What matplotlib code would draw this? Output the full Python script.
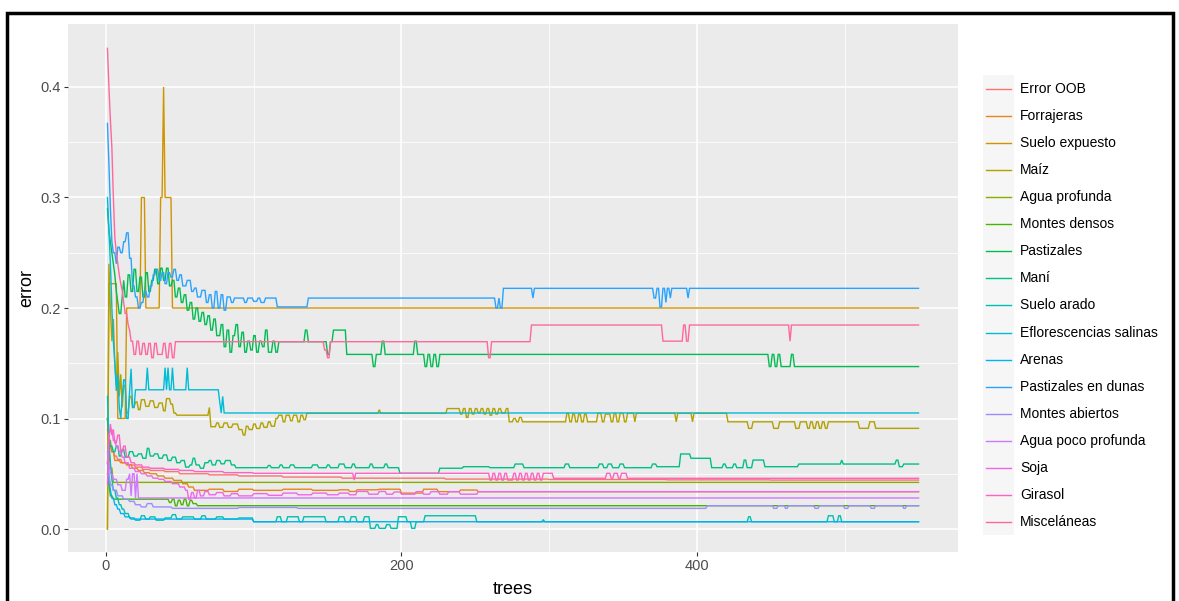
import numpy as np
import matplotlib
matplotlib.use("Agg")
import matplotlib.pyplot as plt
from matplotlib.lines import Line2D
from matplotlib.patches import Rectangle

plt.rcParams['font.family'] = ['Liberation Sans', 'DejaVu Sans']

N_TREES = 550

classes = ["Error OOB", "Forrajeras", "Suelo expuesto", "Maíz", "Agua profunda",
           "Montes densos", "Pastizales", "Maní", "Suelo arado",
           "Eflorescencias salinas", "Arenas", "Pastizales en dunas",
           "Montes abiertos", "Agua poco profunda", "Soja", "Girasol", "Misceláneas"]

# Each series: tree index where a value starts, and the error value held from there
oob_t = [1, 2, 3, 4, 6, 8, 11, 15, 20, 25, 30, 40, 50, 70, 90, 120, 160, 230, 300, 380, 450]
oob_v = [0.09, 0.08, 0.075, 0.07, 0.066, 0.063, 0.06, 0.058, 0.056, 0.054, 0.053, 0.052,
         0.05, 0.049, 0.048, 0.047, 0.046, 0.0452, 0.0448, 0.0445, 0.0443]

forr_t = [1, 2, 4, 6, 10, 14, 18, 22, 26, 30, 35, 40, 46, 52, 56, 60, 70, 80, 90, 100,
          120, 140, 158, 165, 170, 185, 200, 215, 225, 240, 252]
forr_v = [0.1, 0.08, 0.07, 0.062, 0.06, 0.058, 0.055, 0.053, 0.051, 0.05, 0.048, 0.046,
          0.044, 0.041, 0.038, 0.035, 0.036, 0.034, 0.036, 0.035, 0.036, 0.035, 0.0355,
          0.034, 0.0355, 0.036, 0.0325, 0.036, 0.0338, 0.0353, 0.0338]

suelo_t = [1, 2, 8, 14, 24, 27, 37, 39, 40, 45]
suelo_v = [0.0, 0.222, 0.1, 0.2, 0.3, 0.2, 0.3, 0.4, 0.3, 0.2]

maiz_t = [1, 2, 3, 4, 5, 6, 7, 8, 9, 10, 11, 12, 14, 16, 18, 20, 22, 24, 27, 30, 33, 36,
          39, 41, 44, 46, 48, 70, 71, 75, 77, 80, 83, 86, 90, 93, 95, 97, 100, 102, 105,
          107, 110, 112, 115, 117, 120, 122, 125, 127, 130, 132, 134, 136, 185, 186, 231,
          240, 242, 244, 246, 248, 250, 252, 254, 256, 258, 260, 262, 264, 266, 268, 271,
          273, 276, 278, 280, 282, 312, 314, 316, 318, 320, 322, 324, 326, 333, 336, 338,
          342, 344, 346, 348, 351, 353, 358, 359, 386, 387, 397, 398, 421, 435, 438, 452,
          456, 467, 470, 475, 477, 479, 481, 483, 485, 487, 489, 510, 517, 521]
maiz_v = [0.0, 0.24, 0.2, 0.17, 0.19, 0.15, 0.13, 0.16, 0.12, 0.14, 0.11, 0.13, 0.105,
          0.12, 0.11, 0.115, 0.108, 0.117, 0.111, 0.116, 0.11, 0.114, 0.107, 0.118, 0.113,
          0.105, 0.103, 0.11, 0.0926, 0.096, 0.092, 0.096, 0.092, 0.095, 0.09, 0.085, 0.093,
          0.09, 0.095, 0.091, 0.096, 0.092, 0.097, 0.093, 0.1, 0.103, 0.097, 0.103, 0.098,
          0.103, 0.097, 0.103, 0.099, 0.1047, 0.108, 0.1047, 0.109, 0.104, 0.109, 0.101,
          0.109, 0.104, 0.109, 0.105, 0.109, 0.104, 0.109, 0.103, 0.109, 0.104, 0.109, 0.105,
          0.109, 0.097, 0.1, 0.097, 0.101, 0.097, 0.1047, 0.097, 0.104, 0.097, 0.104, 0.097,
          0.104, 0.097, 0.1047, 0.097, 0.104, 0.097, 0.1047, 0.097, 0.1047, 0.097, 0.1047,
          0.097, 0.1047, 0.097, 0.1047, 0.097, 0.1047, 0.097, 0.0911, 0.097, 0.0911, 0.097,
          0.0911, 0.097, 0.0911, 0.097, 0.0911, 0.097, 0.0911, 0.097, 0.0911, 0.097, 0.0911,
          0.097, 0.0911]

aguap_t = [1, 2, 3, 5]
aguap_v = [0.1, 0.07, 0.055, 0.0422]

mdens_t = [1, 2, 3, 5, 43, 45, 47, 49, 51, 53, 55, 57, 59, 62]
mdens_v = [0.05, 0.04, 0.03, 0.027, 0.024, 0.027, 0.021, 0.026, 0.022, 0.027, 0.021,
           0.026, 0.023, 0.0211]

past_t = [1, 2, 3, 4, 5, 6, 7, 8, 9, 11, 12, 13, 15, 17, 19, 21, 23, 25, 27, 29, 31, 33,
          35, 37, 39, 41, 43, 45, 47, 49, 51, 53, 55, 57, 59, 61, 63, 65, 67, 69, 71, 73,
          75, 78, 80, 82, 84, 86, 88, 90, 92, 94, 96, 98, 100, 102, 104, 106, 108, 110, 113,
          115, 117, 135, 137, 150, 152, 154, 163, 181, 183, 187, 189, 209, 211, 216, 218,
          220, 222, 224, 226, 449, 451, 453, 455, 457, 464, 466]
past_v = [0.29, 0.27, 0.26, 0.25, 0.24, 0.23, 0.215, 0.205, 0.195, 0.21, 0.225, 0.21,
          0.23, 0.215, 0.235, 0.215, 0.228, 0.21, 0.232, 0.215, 0.225, 0.235, 0.222, 0.236,
          0.225, 0.236, 0.22, 0.225, 0.21, 0.218, 0.205, 0.212, 0.198, 0.205, 0.19, 0.2,
          0.188, 0.196, 0.185, 0.193, 0.18, 0.19, 0.175, 0.185, 0.165, 0.18, 0.16, 0.175,
          0.185, 0.165, 0.178, 0.16, 0.17, 0.162, 0.175, 0.16, 0.17, 0.165, 0.18, 0.16, 0.17,
          0.16, 0.1695, 0.18, 0.1695, 0.158, 0.1695, 0.18, 0.158, 0.147, 0.158, 0.17, 0.158,
          0.17, 0.158, 0.147, 0.158, 0.147, 0.158, 0.147, 0.158, 0.147, 0.158, 0.147, 0.158,
          0.147, 0.158, 0.147]

mani_t = [1, 2, 3, 5, 7, 9, 11, 13, 16, 19, 22, 25, 28, 30, 33, 36, 39, 42, 45, 48, 51, 54,
          57, 59, 61, 64, 67, 70, 72, 75, 78, 81, 85, 88, 110, 112, 118, 120, 125, 128, 140,
          144, 150, 152, 158, 162, 167, 169, 179, 181, 189, 191, 199, 226, 242, 260, 277,
          283, 311, 314, 334, 337, 340, 343, 348, 351, 370, 373, 389, 396, 410, 418, 420,
          425, 427, 432, 434, 438, 446, 469, 498, 499, 535, 537, 540]
mani_v = [0.1, 0.085, 0.075, 0.07, 0.075, 0.066, 0.072, 0.065, 0.07, 0.066, 0.068, 0.064,
          0.073, 0.066, 0.068, 0.064, 0.067, 0.062, 0.065, 0.06, 0.062, 0.056, 0.058, 0.064,
          0.058, 0.055, 0.06, 0.062, 0.058, 0.062, 0.059, 0.062, 0.058, 0.0555, 0.0575,
          0.0555, 0.058, 0.0555, 0.058, 0.0555, 0.058, 0.0555, 0.058, 0.0555, 0.0588, 0.0555,
          0.0588, 0.0555, 0.0588, 0.0555, 0.0588, 0.0555, 0.0504, 0.055, 0.0564, 0.0555,
          0.0588, 0.0555, 0.0588, 0.0555, 0.0588, 0.0555, 0.0588, 0.0555, 0.0588, 0.0555,
          0.0588, 0.0564, 0.0679, 0.064, 0.0555, 0.0588, 0.0555, 0.0588, 0.0555, 0.0624,
          0.0555, 0.0624, 0.0564, 0.0588, 0.0624, 0.0588, 0.0624, 0.0564, 0.0588]

arado_t = [1, 2, 3, 4, 5, 7, 9, 11, 13, 16, 20, 24, 27, 30, 34, 40, 45, 48, 52, 60, 65, 68,
           75, 80, 90, 100, 116, 119, 123, 131, 134, 145, 149, 158, 162, 166, 170, 175, 179,
           183, 185, 190, 193, 198, 204, 207, 210, 216, 251, 296, 297, 435, 437, 489, 493,
           496, 498]
arado_v = [0.12, 0.08, 0.06, 0.045, 0.035, 0.028, 0.022, 0.018, 0.014, 0.01, 0.008, 0.012,
           0.009, 0.011, 0.008, 0.01, 0.013, 0.009, 0.011, 0.009, 0.012, 0.009, 0.011, 0.009,
           0.01, 0.0066, 0.0111, 0.0066, 0.0111, 0.0066, 0.0111, 0.0111, 0.0066, 0.0111,
           0.0066, 0.0111, 0.0066, 0.0111, 0.0006, 0.004, 0.0006, 0.004, 0.0006, 0.0111,
           0.0066, 0.0006, 0.0066, 0.012, 0.0066, 0.0085, 0.0066, 0.0111, 0.0066, 0.012,
           0.0066, 0.012, 0.0066]

eflo_t = [1, 2, 3, 4, 5, 6, 7, 8, 9, 10, 11, 12, 14, 16, 17, 18, 20, 28, 29, 40, 41, 42, 43,
          45, 46, 55, 56, 77, 78, 79, 80]
eflo_v = [0.30, 0.27, 0.24, 0.2, 0.17, 0.15, 0.125, 0.14, 0.11, 0.1, 0.12, 0.135, 0.1,
          0.125, 0.145, 0.11, 0.126, 0.146, 0.126, 0.146, 0.126, 0.146, 0.126, 0.146, 0.126,
          0.146, 0.126, 0.115, 0.105, 0.12, 0.105]

arenas_t = [1, 2, 3, 4, 6, 8, 10, 13, 17, 100]
arenas_v = [0.06, 0.045, 0.035, 0.028, 0.022, 0.018, 0.014, 0.011, 0.009, 0.0066]

pdun_t = [1, 2, 3, 4, 5, 7, 8, 10, 12, 14, 16, 18, 20, 22, 24, 26, 28, 30, 32, 34, 36, 38,
          40, 42, 44, 46, 48, 50, 52, 55, 58, 60, 62, 65, 68, 70, 72, 74, 76, 78, 80, 82, 85,
          87, 94, 96, 100, 103, 105, 108, 116, 137, 264, 266, 267, 269, 289, 290, 371, 373,
          375, 377, 379, 380, 382, 383, 394, 395]
pdun_v = [0.367, 0.33, 0.29, 0.26, 0.25, 0.24, 0.255, 0.25, 0.26, 0.268, 0.245, 0.22, 0.21,
          0.2, 0.205, 0.215, 0.21, 0.22, 0.23, 0.235, 0.225, 0.232, 0.222, 0.232, 0.228,
          0.235, 0.225, 0.23, 0.22, 0.225, 0.215, 0.218, 0.21, 0.216, 0.205, 0.212, 0.2,
          0.215, 0.2, 0.212, 0.198, 0.21, 0.205, 0.209, 0.205, 0.209, 0.206, 0.209, 0.205,
          0.209, 0.201, 0.209, 0.2, 0.209, 0.2, 0.2178, 0.209, 0.2178, 0.209, 0.2178, 0.201,
          0.2178, 0.205, 0.2178, 0.209, 0.2178, 0.209, 0.2178]

mabi_t = [1, 2, 3, 5, 8, 12, 16, 20, 24, 28, 32, 45, 90, 130, 407, 452, 455, 460, 462, 480,
          483, 500, 503, 518, 521, 540, 542]
mabi_v = [0.07, 0.05, 0.04, 0.035, 0.03, 0.027, 0.025, 0.022, 0.02, 0.023, 0.02, 0.0187,
          0.0195, 0.0187, 0.0211, 0.0187, 0.0211, 0.0187, 0.0211, 0.0187, 0.0211, 0.0187,
          0.0211, 0.0187, 0.0211, 0.0187, 0.0211]

apoco_t = [1, 3, 5, 8, 11, 14, 16, 17, 18, 20, 21, 22]
apoco_v = [0.06, 0.05, 0.045, 0.04, 0.035, 0.045, 0.05, 0.03, 0.05, 0.028, 0.05, 0.0281]

soja_t = [1, 2, 3, 5, 7, 9, 11, 13, 16, 20, 24, 28, 32, 36, 40, 45, 50, 54, 56, 58, 60, 62,
          64, 67, 70, 75, 80, 85, 90, 100, 110, 120, 130, 140, 150, 158, 165, 170, 178, 185,
          190, 195, 200, 210, 215, 220, 226, 232, 240, 252]
soja_v = [0.06, 0.085, 0.09, 0.08, 0.075, 0.07, 0.065, 0.06, 0.055, 0.052, 0.05, 0.048,
          0.046, 0.045, 0.043, 0.041, 0.038, 0.035, 0.027, 0.033, 0.028, 0.035, 0.03, 0.034,
          0.031, 0.033, 0.03, 0.032, 0.03, 0.032, 0.0305, 0.0325, 0.031, 0.0325, 0.031,
          0.0325, 0.031, 0.034, 0.0315, 0.034, 0.0315, 0.0335, 0.0315, 0.0338, 0.0315,
          0.0338, 0.0315, 0.0338, 0.0315, 0.0338]

gira_t = [1, 2, 3, 4, 5, 6, 8, 10, 12, 14, 17, 20, 25, 30, 40, 50, 60, 80, 100, 168, 169,
          260, 262, 264, 266, 268, 270, 272, 276, 278, 280, 282, 284, 286, 288, 290, 292,
          294, 296, 303, 339, 342, 344, 347, 349, 353]
gira_v = [0.04, 0.08, 0.095, 0.085, 0.09, 0.078, 0.085, 0.07, 0.075, 0.065, 0.06, 0.058,
          0.056, 0.055, 0.054, 0.053, 0.052, 0.051, 0.0504, 0.0443, 0.0504, 0.0443, 0.0504,
          0.0443, 0.0504, 0.0443, 0.0504, 0.0443, 0.0504, 0.0443, 0.0504, 0.0443, 0.0504,
          0.0443, 0.0504, 0.0443, 0.0504, 0.0443, 0.0504, 0.0459, 0.0504, 0.0459, 0.0504,
          0.0459, 0.0504, 0.0459]

misc_t = [1, 2, 3, 4, 5, 6, 7, 8, 9, 10, 11, 12, 13, 15, 16, 17, 19, 21, 23, 25, 27, 29, 31,
          33, 35, 39, 41, 43, 45, 47, 148, 150, 152, 259, 261, 288, 377, 391, 393, 395, 463,
          464]
misc_v = [0.435, 0.40, 0.37, 0.345, 0.30, 0.264, 0.25, 0.24, 0.23, 0.222, 0.216, 0.205,
          0.195, 0.185, 0.18, 0.17, 0.158, 0.17, 0.158, 0.168, 0.158, 0.168, 0.155, 0.168,
          0.158, 0.168, 0.155, 0.168, 0.155, 0.1695, 0.162, 0.155, 0.1695, 0.155, 0.1695,
          0.1846, 0.17, 0.1846, 0.17, 0.1846, 0.17, 0.1846]

series_t = [oob_t, forr_t, suelo_t, maiz_t, aguap_t, mdens_t, past_t, mani_t, arado_t,
            eflo_t, arenas_t, pdun_t, mabi_t, apoco_t, soja_t, gira_t, misc_t]
series_v = [oob_v, forr_v, suelo_v, maiz_v, aguap_v, mdens_v, past_v, mani_v, arado_v,
            eflo_v, arenas_v, pdun_v, mabi_v, apoco_v, soja_v, gira_v, misc_v]


def hcl_hex(h, c=100.0, l=65.0):
    """R's hcl() conversion (polarLUV -> sRGB)."""
    yn = 100.0
    un, vn = 0.1978398, 0.4683363
    hr = np.deg2rad(h)
    U, V = c * np.cos(hr), c * np.sin(hr)
    Y = yn * ((l + 16) / 116) ** 3 if l > 8 else yn * l / 903.3
    u = U / (13 * l) + un
    v = V / (13 * l) + vn
    X = 9.0 * Y * u / (4 * v)
    Z = -X / 3 - 5 * Y + 3 * Y / v

    def g(t):
        return 1.055 * t ** (1 / 2.4) - 0.055 if t > 0.0031308 else 12.92 * t
    r = g((3.240479 * X - 1.537150 * Y - 0.498535 * Z) / yn)
    gg = g((-0.969256 * X + 1.875992 * Y + 0.041556 * Z) / yn)
    b = g((0.055648 * X - 0.204043 * Y + 1.057311 * Z) / yn)
    return tuple(min(1, max(0, x)) for x in (r, gg, b))


n = len(classes)
hues = np.linspace(15, 375, n + 1)[:-1]
colors = [hcl_hex(h % 360) for h in hues]

W, H = 1179, 601
fig = plt.figure(figsize=(W / 100, H / 100), dpi=100)
fig.patch.set_facecolor('white')

# panel in pixel coordinates
px_l, px_r, px_t, px_b = 68, 958, 24, 552
ax = fig.add_axes([px_l / W, 1 - px_b / H, (px_r - px_l) / W, (px_b - px_t) / H])
ax.set_facecolor('#EBEBEB')
for s in ax.spines.values():
    s.set_visible(False)

trees = np.arange(1, N_TREES + 1)
for name, t, v, col in zip(classes, series_t, series_v, colors):
    counts = np.diff(list(t) + [N_TREES + 1])
    y = np.repeat(v, counts)
    ax.plot(trees, y, color=col, lw=1.0, solid_joinstyle='miter', zorder=3)

ax.set_xlim(-25.7, 576.7)
ax.set_ylim(-0.0208, 0.457)
ax.set_xticks([0, 200, 400])
ax.set_xticklabels(['0', '200', '400'])
ax.set_xticks([100, 300, 500], minor=True)
ax.set_yticks([0.0, 0.1, 0.2, 0.3, 0.4])
ax.set_yticklabels(['0.0', '0.1', '0.2', '0.3', '0.4'])
ax.set_yticks([0.05, 0.15, 0.25, 0.35], minor=True)
ax.grid(which='major', color='white', lw=1.1, zorder=0)
ax.grid(which='minor', color='white', lw=0.55, zorder=0)
ax.set_axisbelow(True)
ax.tick_params(which='major', length=3, width=0.8, color='#333333', labelcolor='#4D4D4D',
               labelsize=10.5, pad=2)
ax.tick_params(which='minor', length=0)
ax.set_xlabel('trees', fontsize=13, color='black', labelpad=6)
ax.set_ylabel('error', fontsize=13, color='black', labelpad=4)

# legend (drawn in figure pixel coordinates)
y0, dy = 89, 27.06
key_x0, key_x1, text_x = 986, 1011, 1020
fig.add_artist(Rectangle((983 / W, 1 - (y0 + 16.5 * dy) / H), 31 / W, (17 * dy) / H,
                         transform=fig.transFigure, facecolor='#F6F6F6', edgecolor='none'))
for i, (name, col) in enumerate(zip(classes, colors)):
    yy = 1 - (y0 + i * dy) / H
    fig.add_artist(Line2D([key_x0 / W, key_x1 / W], [yy, yy], color=col, lw=1.0,
                          transform=fig.transFigure))
    fig.text(text_x / W, yy, name, fontsize=10, color='black', va='center', ha='left')

# black frame around the picture
fig.add_artist(Rectangle((7.5 / W, -0.05), (1173 - 7.5) / W, 1 - 13.5 / H + 0.05,
                         transform=fig.transFigure, fill=False, edgecolor='black', lw=2.5))

fig.savefig('out.png', dpi=100)
